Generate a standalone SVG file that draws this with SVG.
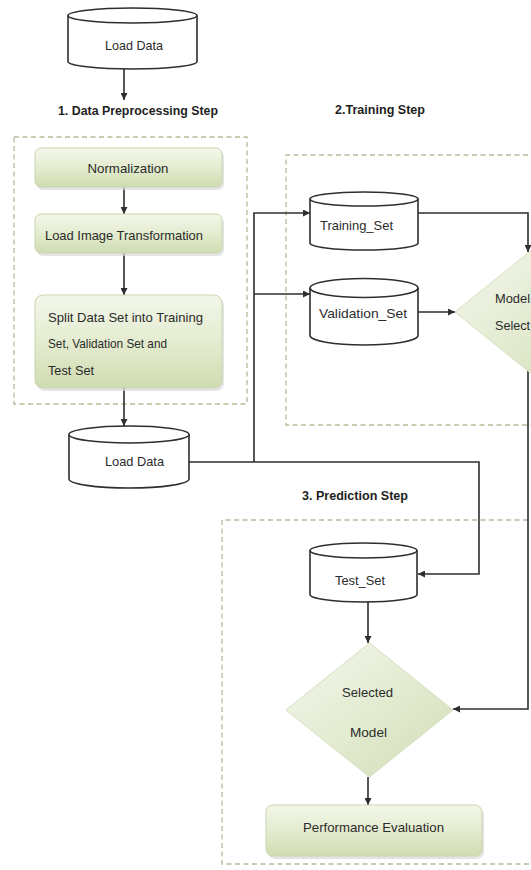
<svg xmlns="http://www.w3.org/2000/svg" width="531" height="870" viewBox="0 0 531 870">
<style>
  .bg { fill: #ffffff; }
  .group { fill: none; stroke: #b9b89c; stroke-width: 1.3; stroke-dasharray: 5 3.5; }
  .cyl { fill: #ffffff; stroke: #2e2e2e; stroke-width: 1.6; }
  .box { fill: url(#boxGrad); stroke: #c9d5ae; stroke-width: 1; }
  .shadow { fill: #d9d9d9; opacity: 0.7; }
  .dia { fill: url(#diaGrad); stroke: #d5dec2; stroke-width: 1; }
  .lbl { font-family: "Liberation Sans", Arial, sans-serif; font-size: 13px; fill: #2b2b2b; }
  .c { text-anchor: middle; }
  .head { font-family: "Liberation Sans", Arial, sans-serif; font-size: 13px; font-weight: bold; fill: #1e1e1e; text-anchor: middle; }
  .conn { fill: none; stroke: #2e2e2e; stroke-width: 1.6; }
</style>
<defs>
  <linearGradient id="boxGrad" x1="0" y1="0" x2="0" y2="1">
    <stop offset="0" stop-color="#f3f7ea"/>
    <stop offset="0.5" stop-color="#e4ecd0"/>
    <stop offset="1" stop-color="#cfdcb0"/>
  </linearGradient>
  <linearGradient id="diaGrad" x1="0" y1="0" x2="1" y2="1">
    <stop offset="0" stop-color="#f5f8ee"/>
    <stop offset="0.55" stop-color="#e2eacf"/>
    <stop offset="1" stop-color="#d0ddb3"/>
  </linearGradient>
  <marker id="arr" viewBox="0 0 10 10" refX="10" refY="5" markerWidth="7" markerHeight="7" markerUnits="userSpaceOnUse" orient="auto">
    <path d="M0,0 L10,5 L0,10 z" fill="#2e2e2e"/>
  </marker>
</defs>
<rect class="bg" x="0" y="0" width="531" height="870"/>

<!-- group containers -->
<g id="group-preprocessing">
  <rect class="group" x="14" y="137" width="233" height="267"/>
  <text class="head" x="138" y="115" textLength="160" lengthAdjust="spacingAndGlyphs">1. Data Preprocessing Step</text>
</g>
<g id="group-training">
  <path class="group" d="M545,155 H286 V425 H545"/>
  <text class="head" x="380" y="114" textLength="90" lengthAdjust="spacingAndGlyphs">2.Training Step</text>
</g>
<g id="group-prediction">
  <path class="group" d="M545,520 H222 V864 H545"/>
  <text class="head" x="355" y="500" textLength="106" lengthAdjust="spacingAndGlyphs">3. Prediction Step</text>
</g>

<!-- connectors -->
<g id="connectors">
  <path class="conn" d="M124,69 V100" marker-end="url(#arr)"/>
  <path class="conn" d="M124,187 V214" marker-end="url(#arr)"/>
  <path class="conn" d="M124,253 V295" marker-end="url(#arr)"/>
  <path class="conn" d="M124,388 V426" marker-end="url(#arr)"/>
  <path class="conn" d="M254,462 V213 H310" marker-end="url(#arr)"/>
  <path class="conn" d="M254,294 H310" marker-end="url(#arr)"/>
  <path class="conn" d="M189,462 H479 V574 H418" marker-end="url(#arr)"/>
  <path class="conn" d="M418,213 H528 V252" marker-end="url(#arr)"/>
  <path class="conn" d="M418,312 H455" marker-end="url(#arr)"/>
  <path class="conn" d="M528,370 V709 H453" marker-end="url(#arr)"/>
  <path class="conn" d="M368,602 V643" marker-end="url(#arr)"/>
  <path class="conn" d="M368,777 V805" marker-end="url(#arr)"/>
</g>

<!-- nodes -->
<g id="load-data-1">
  <path class="cyl" d="M68,15.5 V61.5 A64.5,7.5 0 0 0 197,61.5 V15.5"/>
  <ellipse class="cyl" cx="132.5" cy="15.5" rx="64.5" ry="7.5"/>
  <text class="lbl c" x="134" y="50" textLength="58" lengthAdjust="spacingAndGlyphs">Load Data</text>
</g>

<g id="normalization">
  <rect class="shadow" x="37" y="151" width="187" height="39" rx="6"/>
  <rect class="box" x="35" y="148" width="187" height="39" rx="6"/>
  <text class="lbl c" x="128" y="172.5" textLength="81" lengthAdjust="spacingAndGlyphs">Normalization</text>
</g>

<g id="load-image-transformation">
  <rect class="shadow" x="37" y="217" width="187" height="39" rx="6"/>
  <rect class="box" x="35" y="214" width="187" height="39" rx="6"/>
  <text class="lbl c" x="124" y="239.5" textLength="158" lengthAdjust="spacingAndGlyphs">Load Image Transformation</text>
</g>

<g id="split-data">
  <rect class="shadow" x="37" y="298" width="187" height="93" rx="8"/>
  <rect class="box" x="35" y="295" width="187" height="93" rx="8"/>
  <text class="lbl" x="48" y="321.5" textLength="155" lengthAdjust="spacingAndGlyphs">Split Data Set into Training</text>
  <text class="lbl" x="48" y="347.5" textLength="119" lengthAdjust="spacingAndGlyphs">Set, Validation Set and</text>
  <text class="lbl" x="48" y="374.5" textLength="46" lengthAdjust="spacingAndGlyphs">Test Set</text>
</g>

<g id="load-data-2">
  <path class="cyl" d="M69,434.5 V479 A60,9 0 0 0 189,479 V434.5"/>
  <ellipse class="cyl" cx="129" cy="434.5" rx="60" ry="8.5"/>
  <text class="lbl c" x="134.5" y="465.5" textLength="59" lengthAdjust="spacingAndGlyphs">Load Data</text>
</g>

<g id="training-set">
  <path class="cyl" d="M310,199 V243 A54,7 0 0 0 418,243 V199"/>
  <ellipse class="cyl" cx="364" cy="199" rx="54" ry="7"/>
  <text class="lbl c" x="356.5" y="229.5" textLength="73" lengthAdjust="spacingAndGlyphs">Training_Set</text>
</g>

<g id="validation-set">
  <path class="cyl" d="M310,288 V335.5 A54,9.5 0 0 0 418,335.5 V288"/>
  <ellipse class="cyl" cx="364" cy="288" rx="54" ry="9.5"/>
  <text class="lbl c" x="363" y="317.5" textLength="88" lengthAdjust="spacingAndGlyphs">Validation_Set</text>
</g>

<g id="model-selection">
  <path class="dia" d="M538,245 L621,312 L538,379 L455,312 Z"/>
  <text class="lbl" x="495" y="302.5" textLength="35" lengthAdjust="spacingAndGlyphs">Model</text>
  <text class="lbl" x="495" y="329.5" textLength="35" lengthAdjust="spacingAndGlyphs">Select</text>
</g>

<g id="test-set">
  <path class="cyl" d="M310,550.5 V594.5 A53.5,7.5 0 0 0 417,594.5 V550.5"/>
  <ellipse class="cyl" cx="363.5" cy="550.5" rx="53.5" ry="7.5"/>
  <text class="lbl c" x="360" y="584.5" textLength="50" lengthAdjust="spacingAndGlyphs">Test_Set</text>
</g>

<g id="selected-model">
  <path class="dia" d="M369.5,643 L453,710 L369.5,777 L286,710 Z"/>
  <text class="lbl c" x="367.5" y="696.5" textLength="51" lengthAdjust="spacingAndGlyphs">Selected</text>
  <text class="lbl c" x="368.5" y="736.5" textLength="37" lengthAdjust="spacingAndGlyphs">Model</text>
</g>

<g id="performance-evaluation">
  <rect class="shadow" x="268" y="808" width="216" height="51" rx="7"/>
  <rect class="box" x="266" y="805" width="216" height="51" rx="7"/>
  <text class="lbl c" x="373.5" y="831.5" textLength="141" lengthAdjust="spacingAndGlyphs">Performance Evaluation</text>
</g>
</svg>
